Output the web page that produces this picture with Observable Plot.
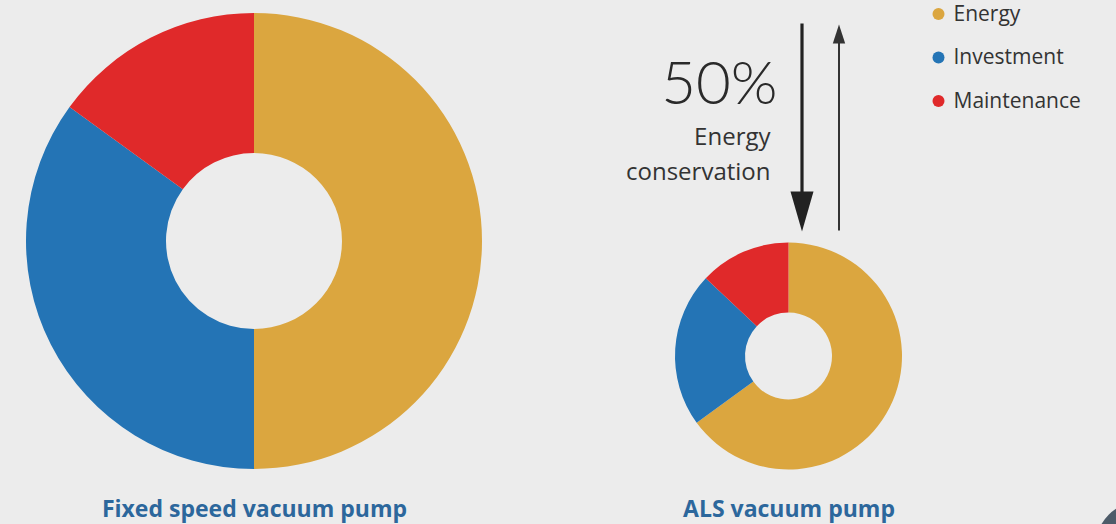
<!DOCTYPE html>
<html>
<head>
<meta charset="utf-8">
<script src="https://cdn.jsdelivr.net/npm/d3@7"></script>
<script src="https://cdn.jsdelivr.net/npm/@observablehq/plot@0.6"></script>
<style>
  html, body { margin: 0; padding: 0; background: #ececec; }
  #chart { width: 1116px; height: 524px; overflow: hidden; }
</style>
</head>
<body>
<div id="chart"></div>
<script>
// ---- data ----
const categories = ["Energy", "Investment", "Maintenance"];
const pumps = ["Fixed speed vacuum pump", "ALS vacuum pump"];
const fixedValues = [50, 35, 15];   // % share of life-cycle cost
const alsValues = [65, 22, 13];
const savingLabel = "50%";
const savingText = ["Energy", "conservation"];
const colors = ["#dba63f", "#2474b5", "#e0292a"];

// ---- layout (pixel space) ----
const W = 1116, H = 524;
const donuts = [
  {pump: pumps[0], values: fixedValues, cx: 254, cy: 241, outer: 228, inner: 88},
  {pump: pumps[1], values: alsValues, cx: 788.5, cy: 356, outer: 113.5, inner: 43.5}
];
const legend = categories.map((c, i) => ({category: c, i}));

// custom triangular arrow head for Plot.vector
const head = {
  draw(context, l, r) {
    context.moveTo(0, -l);
    context.lineTo(r, 0);
    context.lineTo(-r, 0);
    context.closePath();
  }
};

function donutMark(index, scales) {
  const g = d3.create("svg:g");
  const pie = d3.pie().sort(null).value(d => d.value);
  for (const d of donuts) {
    const slices = pie(d.values.map((v, i) => ({value: v, category: categories[i]})));
    const arc = d3.arc().innerRadius(d.inner).outerRadius(d.outer);
    g.append("g")
      .attr("transform", `translate(${scales.x(d.cx)},${scales.y(d.cy)})`)
      .selectAll("path")
      .data(slices)
      .join("path")
      .attr("d", arc)
      .attr("fill", s => scales.color(s.data.category));
  }
  return g.node();
}

const chart = Plot.plot({
  width: W,
  height: H,
  margin: 0,
  style: {background: "#ececec", fontFamily: "'Open Sans', sans-serif", overflow: "hidden"},
  x: {domain: [0, W], range: [0, W], axis: null},
  y: {domain: [0, H], range: [0, H], axis: null},
  color: {domain: categories, range: colors},
  marks: [
    donutMark,
    // pump titles
    Plot.text(donuts, {
      x: "cx", y: 516, text: "pump",
      fontSize: 23, fontWeight: 700, fill: "#2c679c", lineAnchor: "bottom"
    }),
    // 50% label
    Plot.text([savingLabel], {
      x: 777, y: 103, text: d => d, textAnchor: "end", lineAnchor: "bottom",
      fontSize: 60, fontWeight: 300, fill: "#2a2a2a", fontFamily: "Lato, sans-serif"
    }),
    Plot.text(savingText, {
      x: 770, y: (d, i) => 144 + i * 35, text: d => d, textAnchor: "end", lineAnchor: "bottom",
      fontSize: 24, fill: "#333"
    }),
    // down arrow (thick)
    Plot.link([0], {x1: 801.5, y1: 23, x2: 801.5, y2: 195, stroke: "#222", strokeWidth: 3.2}),
    Plot.vector([0], {x: 801.5, y: 191, length: 40, r: 11.5, rotate: 180, shape: head, anchor: "start", fill: "#222", stroke: "none"}),
    // up arrow (thin)
    Plot.link([0], {x1: 838.5, y1: 230, x2: 838.5, y2: 40, stroke: "#333", strokeWidth: 2}),
    Plot.vector([0], {x: 838.5, y: 43, length: 19, r: 6.2, rotate: 0, shape: head, anchor: "start", fill: "#333", stroke: "none"}),
    // legend
    Plot.dot(legend, {x: 938, y: d => 13.5 + d.i * 43.5, r: 6, fill: "category"}),
    Plot.text(legend, {
      x: 953, y: d => 13.5 + d.i * 43.5, text: "category", textAnchor: "start",
      fontSize: 21, fill: "#333"
    }),
    // corner UI element
    Plot.dot([0], {x: 1140, y: 546, r: 45, fill: "#4d5b69"})
  ]
});
document.getElementById("chart").appendChild(chart);
</script>
</body>
</html>
